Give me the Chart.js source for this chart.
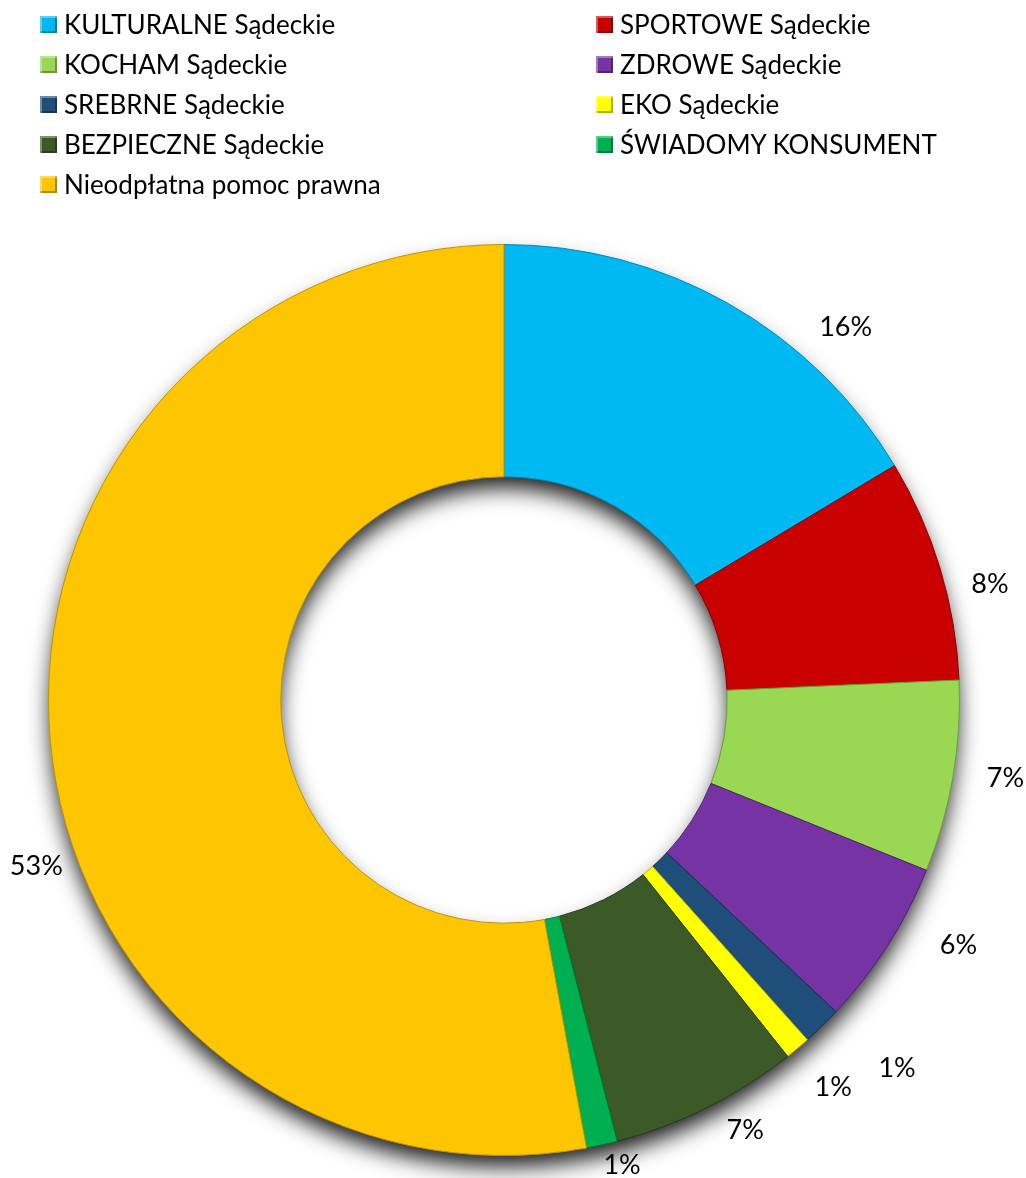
<!DOCTYPE html>
<html lang="pl">
<head>
<meta charset="utf-8">
<title>Udział programów</title>
<script src="https://cdn.jsdelivr.net/npm/chart.js@4.4.1/dist/chart.umd.min.js"></script>
<style>
    html, body { margin: 0; padding: 0; background: #fff; }
    body { width: 1026px; height: 1178px; position: relative; overflow: hidden; font-family: Lato, "Open Sans", sans-serif; }
    #chart { position: absolute; left: 0; top: 0; }
    #legend { position: absolute; left: 40px; top: 4px; width: 980px; display: grid; grid-template-columns: 556px 420px; row-gap: 0; }
    .item { height: 40px; display: flex; align-items: center; font-size: 26px; color: #000; white-space: nowrap; }
    .box { width: 17px; height: 17px; margin-right: 7px; flex: none;
           box-shadow: inset 2px 2px 0 rgba(255,255,255,0.35), inset -2px -2px 0 rgba(0,0,0,0.3); }
</style>
</head>
<body>
<canvas id="chart" width="1026" height="1178"></canvas>
<div id="legend"></div>
<script>
// data, clockwise from 12 o'clock
const programs = [
    'KULTURALNE Sądeckie',
    'SPORTOWE Sądeckie',
    'KOCHAM Sądeckie',
    'ZDROWE Sądeckie',
    'SREBRNE Sądeckie',
    'EKO Sądeckie',
    'BEZPIECZNE Sądeckie',
    'ŚWIADOMY KONSUMENT',
    'Nieodpłatna pomoc prawna'
];
const shares = [16.4, 7.9, 6.8, 5.9, 1.4, 0.9, 6.7, 1.1, 52.9];
const colors = ['#00B9F2', '#C80000', '#9AD752', '#7533A3', '#1F4E7A', '#FFFF00', '#3C5A27', '#00B050', '#FDC600'];
const edges = ['#0089B5', '#8A0000', '#6E9E36', '#4E1F70', '#123251', '#B5B500', '#26391A', '#007A37', '#C09400'];

// label placement tweaks (degrees / px beyond the ring)
const labelNudge = [13, 3.4, -0.9, -4.2, -2.6, -0.2, -2.8, -1.8, -14.4];
const labelGap = [50, 44, 52, 61, 83, 53, 38, 25, 41];

const FONT = 'Lato, "Open Sans", sans-serif';

// legend, two columns filled row by row
const legend = document.getElementById('legend');
programs.forEach((name, i) => {
    const el = document.createElement('div');
    el.className = 'item';
    el.innerHTML = `<span class="box" style="background:${colors[i]}"></span>${name}`;
    legend.appendChild(el);
});

// ring shadow drawn under the slices
const ringShadow = {
    id: 'ringShadow',
    beforeDatasetsDraw(chart) {
        const arc = chart.getDatasetMeta(0).data[0];
        if (!arc) return;
        const { x, y, outerRadius, innerRadius } = arc.getProps(['x', 'y', 'outerRadius', 'innerRadius'], true);
        const ctx = chart.ctx;
        ctx.save();
        ctx.shadowColor = 'rgba(0,0,0,0.9)';
        ctx.shadowBlur = 22;
        ctx.shadowOffsetY = 13;
        ctx.fillStyle = '#555';
        ctx.beginPath();
        ctx.arc(x, y, outerRadius - 2, 0, Math.PI * 2);
        ctx.arc(x, y, innerRadius + 2, 0, Math.PI * 2, true);
        ctx.fill();
        ctx.restore();
    }
};

// percent labels outside the ring
const pctLabels = {
    id: 'pctLabels',
    afterDatasetsDraw(chart) {
        const ctx = chart.ctx;
        const total = shares.reduce((a, b) => a + b, 0);
        ctx.save();
        ctx.font = '27px ' + FONT;
        ctx.fillStyle = '#000';
        ctx.textAlign = 'center';
        ctx.textBaseline = 'middle';
        chart.getDatasetMeta(0).data.forEach((arc, i) => {
            const { x, y, startAngle, endAngle, outerRadius } =
                arc.getProps(['x', 'y', 'startAngle', 'endAngle', 'outerRadius'], true);
            const a = (startAngle + endAngle) / 2 + labelNudge[i] * Math.PI / 180;
            const r = outerRadius + labelGap[i];
            const txt = Math.round(shares[i] / total * 100) + '%';
            ctx.fillText(txt, x + Math.cos(a) * r, y + Math.sin(a) * r);
        });
        ctx.restore();
    }
};

new Chart(document.getElementById('chart'), {
    type: 'doughnut',
    data: {
        labels: programs,
        datasets: [{
            data: shares,
            backgroundColor: colors,
            borderColor: edges,
            borderWidth: 1
        }]
    },
    options: {
        responsive: false,
        animation: false,
        devicePixelRatio: 1,
        cutout: '49%',
        layout: { padding: { left: 48, right: 66, top: 244, bottom: 22 } },
        plugins: {
            legend: { display: false },
            tooltip: { enabled: false }
        }
    },
    plugins: [ringShadow, pctLabels]
});
</script>
</body>
</html>
